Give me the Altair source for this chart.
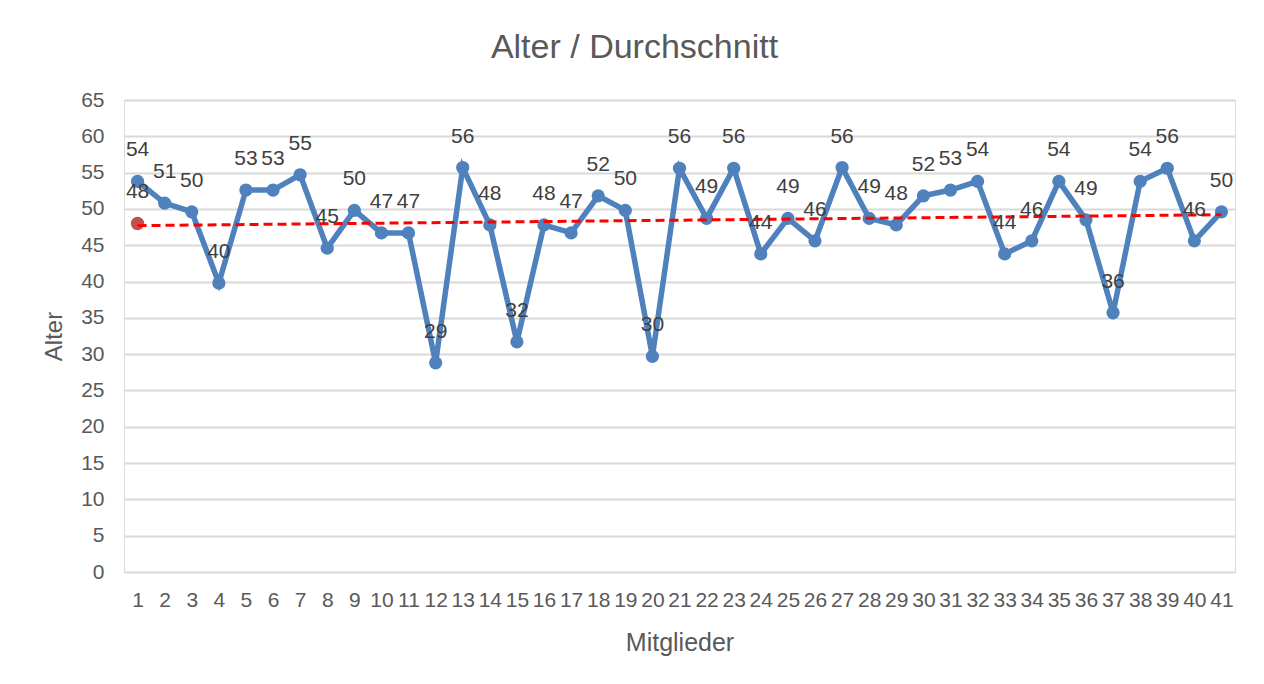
import altair as alt
import pandas as pd

# ---- data ----
mitglieder = list(range(1, 42))
alter = [53.8, 50.8, 49.6, 39.8, 52.6, 52.6, 54.7, 44.6, 49.8, 46.7,
         46.7, 28.8, 55.7, 47.8, 31.7, 47.8, 46.7, 51.8, 49.8, 29.7,
         55.6, 48.7, 55.6, 43.8, 48.7, 45.6, 55.7, 48.7, 47.8, 51.8,
         52.6, 53.8, 43.8, 45.6, 53.8, 48.5, 35.7, 53.8, 55.6, 45.6,
         49.6]
avg_x = [1]
avg_y = [48.0]
trend_x = [1, 41]
trend_y = [47.7, 49.2]
y_ticks = list(range(0, 70, 5))

df = pd.DataFrame({"Mitglied": mitglieder, "Alter": alter})
df_avg = pd.DataFrame({"Mitglied": avg_x, "Alter": avg_y})
df_trend = pd.DataFrame({"Mitglied": trend_x, "Alter": trend_y})

FONT = "Liberation Sans"
W, H = 1111, 472

x_enc = alt.X(
    "Mitglied:O",
    sort=mitglieder,
    scale=alt.Scale(type="point", padding=0.5, domain=mitglieder),
    axis=alt.Axis(
        title="Mitglieder", labelAngle=0, labelFontSize=21, labelColor="#595959",
        labelFont=FONT, labelPadding=17, ticks=False, domain=False, grid=False,
        titleFontSize=25, titleFont=FONT, titleColor="#595959",
        titleFontWeight="normal", titlePadding=20, labelOverlap=False,
    ),
)
y_enc = alt.Y(
    "Alter:Q",
    scale=alt.Scale(domain=[0, 65], nice=False, zero=True),
    axis=alt.Axis(
        title="Alter", values=y_ticks, labelFontSize=21, labelColor="#595959",
        labelFont=FONT, labelPadding=20, ticks=False, domain=False, grid=True,
        gridColor="#d9d9d9", gridWidth=2,
        titleFontSize=24, titleFont=FONT, titleColor="#595959",
        titleFontWeight="normal", titlePadding=14,
    ),
)

base = alt.Chart(df).encode(x=x_enc, y=y_enc)

line = base.mark_line(color="#4f81bd", strokeWidth=5.5)
points = base.mark_point(filled=True, size=175, color="#4f81bd", opacity=1)
labels = base.mark_text(dy=-31, fontSize=21, font=FONT, color="#404040").encode(
    text=alt.Text("Alter:Q", format=".0f")
)

avg_base = alt.Chart(df_avg).encode(x=x_enc, y=y_enc)
avg_point = avg_base.mark_point(filled=True, size=180, color="#c0504d", opacity=1)
avg_label = avg_base.mark_text(dy=-31, fontSize=21, font=FONT, color="#404040").encode(
    text=alt.Text("Alter:Q", format=".0f")
)

trend = alt.Chart(df_trend).mark_line(
    color="#ff0000", strokeWidth=3, strokeDash=[9, 5]
).encode(x=x_enc, y=y_enc)

chart = alt.layer(line, points, avg_point, trend, labels, avg_label).properties(
    width=W,
    height=H,
    autosize=alt.AutoSizeParams(type="none"),
    padding={"left": 116, "top": 92, "right": 20, "bottom": 100},
    title=alt.TitleParams(
        "Alter / Durchschnitt", fontSize=34, font=FONT, color="#595959",
        fontWeight="normal", anchor="middle", dx=-45, offset=24,
    ),
).configure_view(stroke=None).configure(background="white")

chart.save("out.html", embed_options={"renderer": "svg", "actions": False})
